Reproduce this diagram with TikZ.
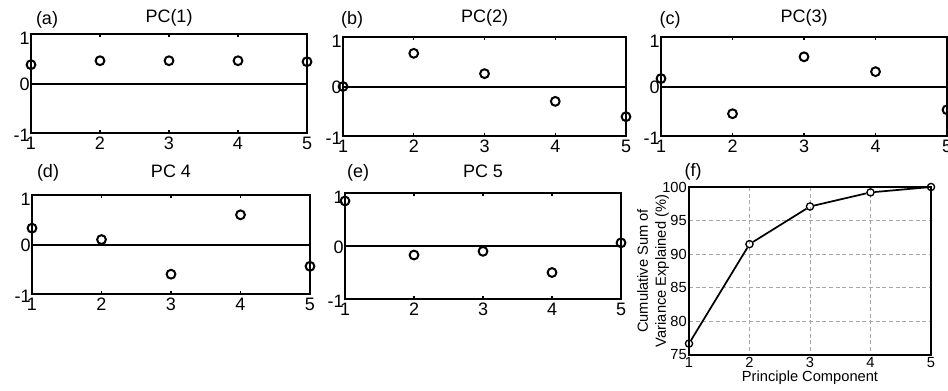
\documentclass[tikz,border=0pt]{standalone}
\usepackage{fontspec}
\setmainfont{Liberation Sans}

\begin{document}
\begin{tikzpicture}[x=0.75pt, y=-0.75pt,
    every node/.style = {inner sep=0pt, font=\fontsize{13.5}{16}\selectfont},
    pcframe/.style = {line width=1.5pt},
    pctick/.style = {line width=0.8pt},
    pcdot/.style = {circle, draw, line width=1.5pt, minimum size=6.6pt},
    fdot/.style = {circle, draw, line width=1pt, minimum size=5.4pt},
    fgrid/.style = {densely dashed, black!35, line width=0.5pt},
    ftext/.style = {font=\fontsize{11}{13.5}\selectfont}]
  \useasboundingbox (0,0) rectangle (948,390);

  % loadings of PC 1-5
  \foreach \pn/\lab/\ttl/\lx/\ty/\L/\R/\T/\B/\vals in {
      a/(a)/PC(1)/47/18/31/307/34/133/{0.38,0.46,0.46,0.46,0.44},
      b/(b)/PC(2)/352/18/343/626/37/136/{0.0,0.67,0.26,-0.3,-0.61},
      c/(c)/PC(3)/670/18/661/947/37/136/{0.16,-0.55,0.6,0.3,-0.47},
      d/(d)/PC 4/48/171/32/310/195/294/{0.33,0.1,-0.6,0.6,-0.44},
      e/(e)/PC 5/358/171/345/621/193/299/{0.85,-0.17,-0.1,-0.5,0.06}}
  {
    \pgfmathsetmacro\Z{(\T+\B)/2}
    \pgfmathsetmacro\dx{(\R-\L)/4}
    \pgfmathsetmacro\dy{(\B-\T)/2}
    \draw[pcframe] (\L,\T) rectangle (\R,\B) (\L,\Z) -- (\R,\Z);
    \foreach \i in {1,...,5} {
      \draw[pctick] (\L+\i*\dx-\dx,\T) -- ++(0,3) (\L+\i*\dx-\dx,\B) -- ++(0,-3);
      \node[anchor=north] (\pn x\i) at (\L+\i*\dx-\dx,\B+4) {\i};
    }
    \node[anchor=east] (\pn yt) at (\L-1,\T+4) {1};
    \node[anchor=east] (\pn yz) at (\L-1,\Z+1) {0};
    \node[anchor=east] (\pn yb) at (\L-1,\B+2) {-1};
    \foreach \v [count=\i] in \vals
      \node[pcdot] (\pn\i) at (\L+\i*\dx-\dx,{\Z-\v*\dy}) {};
    \node (\pn lab) at (\lx,\ty+2) {\lab};
    \node (\pn ttl) at ({(\L+\R)/2},\ty) {\ttl};
  }

  % (f) cumulative variance
  \foreach \i in {2,3,4}
    \draw[fgrid] (689+\i*60.5-60.5,187) -- (689+\i*60.5-60.5,355);
  \foreach \v in {80,85,90,95}
    \draw[fgrid] (689,355-\v*6.72+504) -- (931,355-\v*6.72+504);
  \draw[pcframe] (689,187) rectangle (931,355);
  \foreach \i in {1,...,5}
    \node[ftext, anchor=north] (fx\i) at (689+\i*60.5-60.5,357) {\i};
  \foreach \v in {75,80,...,100}
    \node[ftext, anchor=east] (fy\v) at (687,355-\v*6.72+504) {\v};
  \foreach \v [count=\i] in {76.7,91.5,97.1,99.2,100}
    \node[fdot] (f\i) at (689+\i*60.5-60.5,355-\v*6.72+504) {};
  \draw[line width=1.3pt] (f1) -- (f2) -- (f3) -- (f4) -- (f5);
  \node (flab) at (693,172) {(f)};
  \node[ftext] (fxl) at (810,378) {Principle Component};
  \node[ftext, rotate=90, align=center] (fyl) at (653,271)
    {Cumulative Sum of\\Variance Explained (\%)};
\end{tikzpicture}
\end{document}
